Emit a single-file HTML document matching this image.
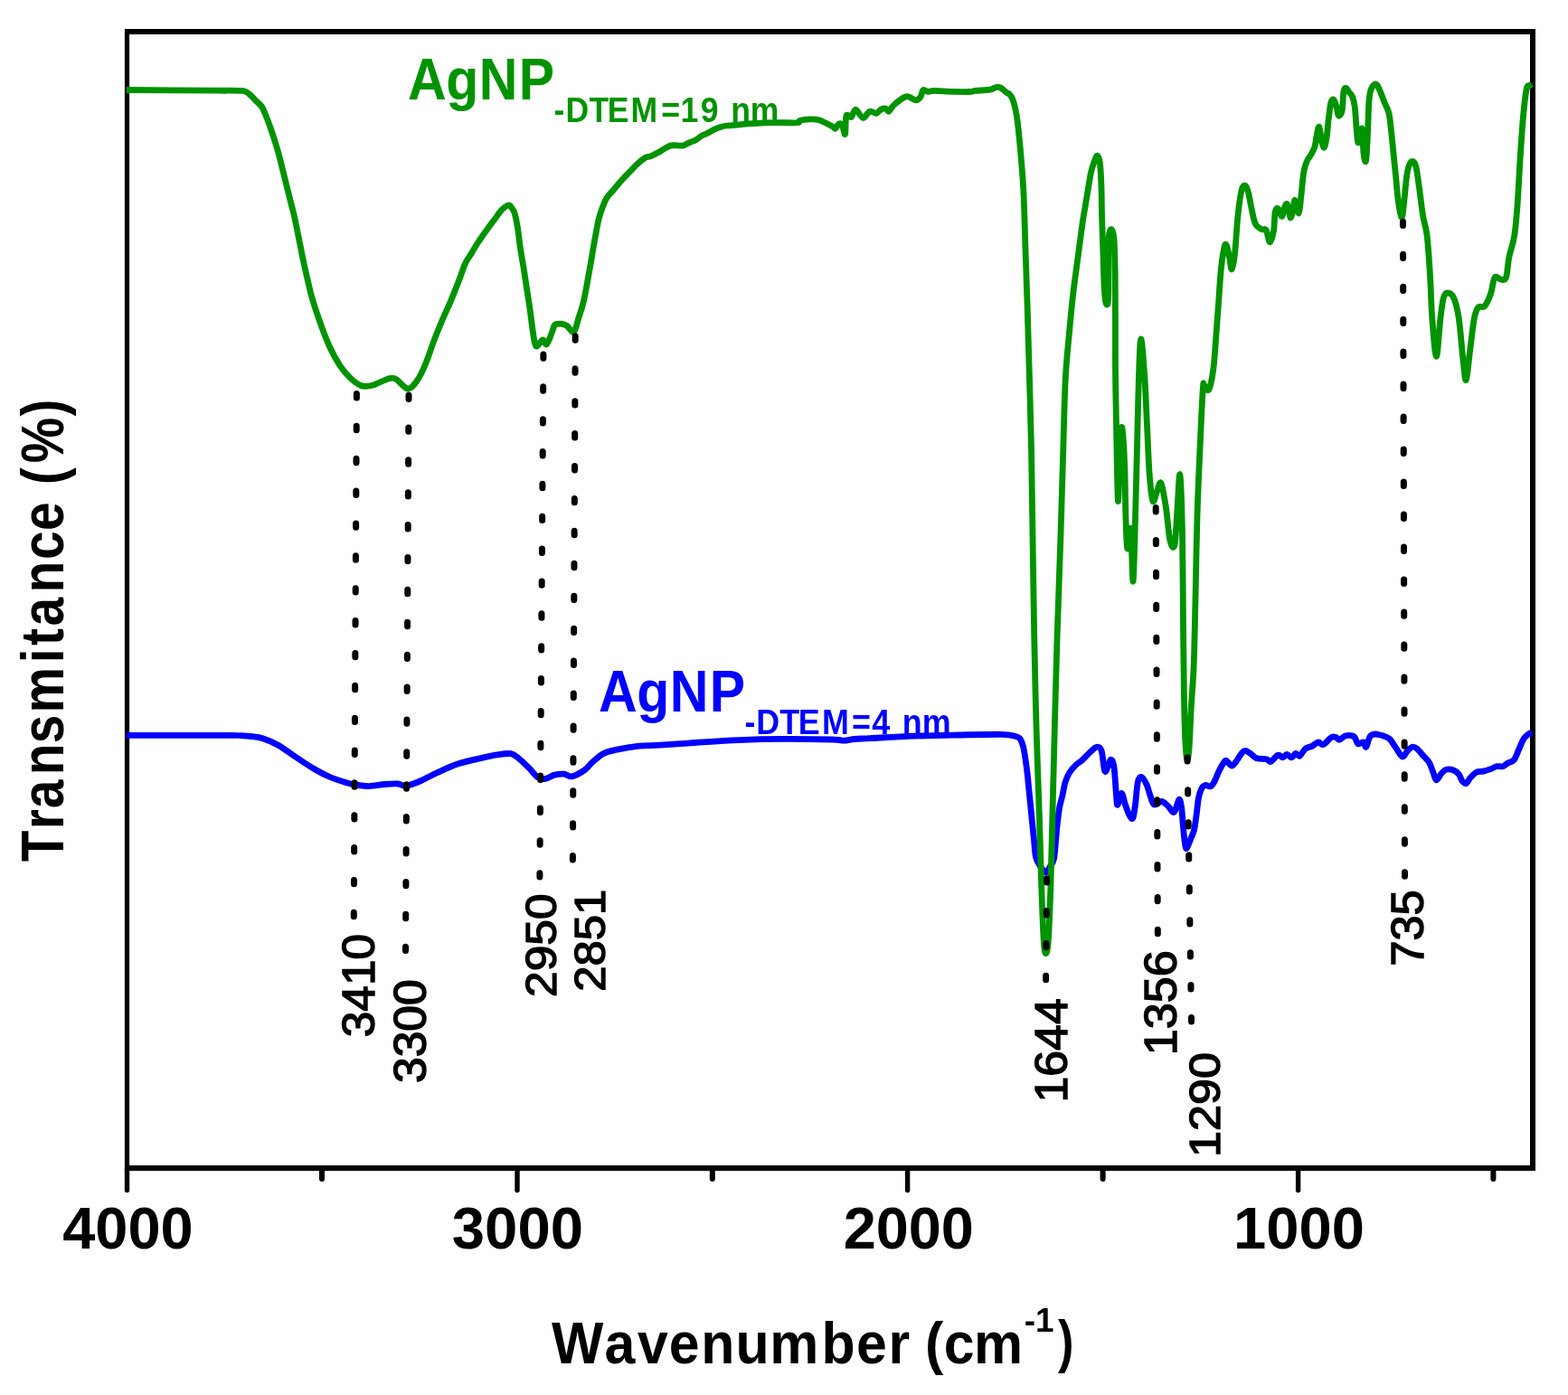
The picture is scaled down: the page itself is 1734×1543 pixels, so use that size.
<!DOCTYPE html>
<html><head><meta charset="utf-8"><title>FTIR spectra</title>
<style>html,body{margin:0;padding:0;background:#fff;}svg{display:block;}</style></head>
<body><svg width="1734" height="1543" viewBox="0 0 1734 1543">
<rect width="1734" height="1543" fill="#fff"/>
<g stroke="#000" fill="none" stroke-linecap="butt">
<line x1="140.5" y1="32" x2="140.5" y2="1295" stroke-width="5.2"/>
<line x1="138" y1="35" x2="1698" y2="35" stroke-width="5.9"/>
<line x1="1695" y1="32" x2="1695" y2="1295" stroke-width="6"/>
<line x1="138" y1="1292" x2="1698" y2="1292" stroke-width="6"/>
</g>
<g stroke="#000" stroke-linecap="round" fill="none">
<line x1="140.5" y1="1292" x2="140.5" y2="1316.5" stroke-width="5.4"/>
<line x1="572" y1="1292" x2="572" y2="1316.5" stroke-width="5.4"/>
<line x1="1003.6" y1="1292" x2="1003.6" y2="1316.5" stroke-width="5.4"/>
<line x1="1435.6" y1="1292" x2="1435.6" y2="1316.5" stroke-width="5.4"/>
<line x1="356" y1="1292" x2="356" y2="1304" stroke-width="6"/>
<line x1="787.8" y1="1292" x2="787.8" y2="1304" stroke-width="6"/>
<line x1="1219.6" y1="1292" x2="1219.6" y2="1304" stroke-width="6"/>
<line x1="1651.4" y1="1292" x2="1651.4" y2="1304" stroke-width="6"/>
</g>
<path d="M140,813.4C158.333,813.4 229,813.367 250,813.4C271,813.433 261.167,813.4 266,813.6C270.833,813.8 274.917,814.067 279,814.6C283.083,815.133 285.8,815.233 290.5,816.8C295.2,818.367 301.067,820.55 307.2,824C313.333,827.45 320.6,833.083 327.3,837.5C334,841.917 341.133,846.833 347.4,850.5C353.667,854.167 359.1,857 364.9,859.5C370.7,862 377.583,864.083 382.2,865.5C386.817,866.917 388.267,867.317 392.6,868C396.933,868.683 402.717,869.683 408.2,869.6C413.683,869.517 420.2,867.933 425.5,867.5C430.8,867.067 436.083,866.717 440,867C443.917,867.283 444.9,869.7 449,869.2C453.1,868.7 459.117,866.3 464.6,864C470.083,861.7 474.983,858.567 481.9,855.4C488.817,852.233 497.45,847.883 506.1,845C514.75,842.117 526.3,839.833 533.8,838.1C541.3,836.367 545.9,835.333 551.1,834.6C556.3,833.867 561.25,832.983 565,833.7C568.75,834.417 570.15,836.15 573.6,838.9C577.05,841.65 582.233,846.733 585.7,850.2C589.167,853.667 591.517,857.833 594.4,859.7C597.283,861.567 599.833,861.833 603,861.4C606.167,860.967 609.933,857.967 613.4,857.1C616.867,856.233 620.633,855.917 623.8,856.2C626.967,856.483 628.65,859.517 632.4,858.8C636.15,858.083 642.55,854.483 646.3,851.9C650.05,849.317 651.45,846.333 654.9,843.3C658.35,840.267 662.667,836.017 667,833.7C671.333,831.383 674.267,830.833 680.9,829.4C687.533,827.967 698.617,825.967 706.8,825.1C714.983,824.233 719.733,824.8 730,824.2C740.267,823.6 753.917,822.433 768.4,821.5C782.883,820.567 800.75,819.283 816.9,818.6C833.05,817.917 848.117,817.5 865.3,817.4C882.483,817.3 908.7,817.7 920,818C931.3,818.3 928.933,819.283 933.1,819.2C937.267,819.117 940.15,817.933 945,817.5C949.85,817.067 951.267,817.15 962.2,816.6C973.133,816.05 994.45,814.8 1010.6,814.2C1026.75,813.6 1042.95,813.317 1059.1,813C1075.25,812.683 1097.017,812.1 1107.5,812.3C1117.983,812.5 1118.667,813.5 1122,814.2C1125.333,814.9 1125.967,814.767 1127.5,816.5C1129.033,818.233 1130.183,821.183 1131.2,824.6C1132.217,828.017 1132.783,831.85 1133.6,837C1134.417,842.15 1135.383,849.333 1136.1,855.5C1136.817,861.667 1137.283,867.85 1137.9,874C1138.517,880.15 1139.183,886.25 1139.8,892.4C1140.417,898.55 1140.983,904.733 1141.6,910.9C1142.217,917.067 1142.833,923.133 1143.5,929.4C1144.167,935.667 1144.35,943.567 1145.6,948.5C1146.85,953.433 1149.2,956.25 1151,959C1152.8,961.75 1154.733,965 1156.4,965C1158.067,965 1159.483,961.5 1161,959C1162.517,956.5 1164.4,954.933 1165.5,950C1166.6,945.067 1166.967,935.917 1167.6,929.4C1168.233,922.883 1168.6,917.067 1169.3,910.9C1170,904.733 1170.867,897.533 1171.8,892.4C1172.733,887.267 1173.867,884.617 1174.9,880.1C1175.933,875.583 1176.667,869.617 1178,865.3C1179.333,860.983 1180.85,857.483 1182.9,854.2C1184.95,850.917 1188.117,847.717 1190.3,845.6C1192.483,843.483 1193.433,843.8 1196,841.5C1198.567,839.2 1202.933,834.333 1205.7,831.8C1208.467,829.267 1210.533,826.533 1212.6,826.3C1214.667,826.067 1216.6,826.017 1218.1,830.4C1219.6,834.783 1220.433,849.6 1221.6,852.6C1222.767,855.6 1223.95,850.483 1225.1,848.4C1226.25,846.317 1227.35,840.1 1228.5,840.1C1229.65,840.1 1230.967,841.25 1232,848.4C1233.033,855.55 1234.017,876.067 1234.7,883C1235.383,889.933 1235.167,890.917 1236.1,890C1237.033,889.083 1238.917,877.5 1240.3,877.5C1241.683,877.5 1243.017,886.083 1244.4,890C1245.783,893.917 1247.217,898.467 1248.6,901C1249.983,903.533 1251.55,907.033 1252.7,905.2C1253.85,903.367 1254.567,896.7 1255.5,890C1256.433,883.3 1257.15,870.083 1258.3,865C1259.45,859.917 1260.783,859.033 1262.4,859.5C1264.017,859.967 1266.383,864.333 1268,867.8C1269.617,871.267 1270.717,876.6 1272.1,880.3C1273.483,884 1274.217,888.967 1276.3,890C1278.383,891.033 1282.067,886.283 1284.6,886.5C1287.133,886.717 1289.2,889.333 1291.5,891.3C1293.8,893.267 1296.333,899.45 1298.4,898.3C1300.467,897.15 1302.517,885.1 1303.9,884.4C1305.283,883.7 1306,889.717 1306.7,894.1C1307.4,898.483 1307.517,904.467 1308.1,910.7C1308.683,916.933 1309.517,926.883 1310.2,931.5C1310.883,936.117 1311.167,938.867 1312.2,938.4C1313.233,937.933 1315,932.167 1316.4,928.7C1317.8,925.233 1319.45,922.433 1320.6,917.6C1321.75,912.767 1322.5,905.467 1323.3,899.7C1324.1,893.933 1324.467,887.617 1325.4,883C1326.333,878.383 1327.633,874.417 1328.9,872C1330.167,869.583 1331.4,868.85 1333,868.5C1334.6,868.15 1336.883,870.483 1338.5,869.9C1340.117,869.317 1341.083,867.883 1342.7,865C1344.317,862.117 1346.35,856.283 1348.2,852.6C1350.05,848.917 1352.417,844.75 1353.8,842.9C1355.183,841.05 1355.117,840.8 1356.5,841.5C1357.883,842.2 1360.25,847.1 1362.1,847.1C1363.95,847.1 1365.767,843.817 1367.6,841.5C1369.433,839.183 1371.483,835.05 1373.1,833.2C1374.717,831.35 1375.45,830.167 1377.3,830.4C1379.15,830.633 1382.117,833.2 1384.2,834.6C1386.283,836 1387.05,837.95 1389.8,838.8C1392.55,839.65 1398.133,839.1 1400.7,839.7C1403.267,840.3 1403.117,843.15 1405.2,842.4C1407.283,841.65 1410.967,835.95 1413.2,835.2C1415.433,834.45 1416.95,838.05 1418.6,837.9C1420.25,837.75 1421.467,834.3 1423.1,834.3C1424.733,834.3 1426.767,838.05 1428.4,837.9C1430.033,837.75 1431.4,833.7 1432.9,833.4C1434.4,833.1 1435.617,836.983 1437.4,836.1C1439.183,835.217 1441.367,829.883 1443.6,828.1C1445.833,826.317 1448.417,826.6 1450.8,825.4C1453.183,824.2 1455.817,821.2 1457.9,820.9C1459.983,820.6 1460.917,824.483 1463.3,823.6C1465.683,822.717 1469.817,816.933 1472.2,815.6C1474.583,814.267 1476.1,815.167 1477.6,815.6C1479.1,816.033 1479.417,818.5 1481.2,818.2C1482.983,817.9 1485.617,814.383 1488.3,813.8C1490.983,813.217 1495.067,813.217 1497.3,814.7C1499.533,816.183 1499.917,821.667 1501.7,822.7C1503.483,823.733 1506.5,820.3 1508,820.9C1509.5,821.5 1509.517,827.333 1510.7,826.3C1511.883,825.267 1513.467,817.083 1515.1,814.7C1516.733,812.317 1518.117,812.15 1520.5,812C1522.883,811.85 1526.717,812.917 1529.4,813.8C1532.083,814.683 1534.217,815.067 1536.6,817.3C1538.983,819.533 1541.317,823.917 1543.7,827.2C1546.083,830.483 1548.817,836.4 1550.9,837C1552.983,837.6 1554.417,832.583 1556.2,830.8C1557.983,829.017 1559.8,826.75 1561.6,826.3C1563.4,825.85 1564.917,826.467 1567,828.1C1569.083,829.733 1571.867,833.567 1574.1,836.1C1576.333,838.633 1578.617,840.317 1580.4,843.3C1582.183,846.283 1583.467,850.733 1584.8,854C1586.133,857.267 1586.9,862.6 1588.4,862.9C1589.9,863.2 1592,857.733 1593.8,855.8C1595.6,853.867 1596.817,851.9 1599.2,851.3C1601.583,850.7 1605.717,851.3 1608.1,852.2C1610.483,853.1 1612.017,854.767 1613.5,856.7C1614.983,858.633 1615.667,862.167 1617,863.8C1618.333,865.433 1620,867.1 1621.5,866.5C1623,865.9 1624.067,862.283 1626,860.2C1627.933,858.117 1630.717,855.183 1633.1,854C1635.483,852.817 1637.617,853.7 1640.3,853.1C1642.983,852.5 1646.817,851.3 1649.2,850.4C1651.583,849.5 1652.517,848.15 1654.6,847.7C1656.683,847.25 1659.617,848.283 1661.7,847.7C1663.783,847.117 1665.017,845.383 1667.1,844.2C1669.183,843.017 1672.117,843.133 1674.2,840.6C1676.283,838.067 1677.8,832.883 1679.6,829C1681.4,825.117 1683.217,820.133 1685,817.3C1686.783,814.467 1688.8,813.217 1690.3,812C1691.8,810.783 1693.383,810.333 1694,810" fill="none" stroke="#0000ff" stroke-width="6.8" stroke-linejoin="round" stroke-linecap="butt"/>
<path d="M140,99.5C156.667,99.617 221.667,100.083 240,100.2C258.333,100.317 245.1,100.117 250,100.2C254.9,100.283 265.083,100.017 269.4,100.7C273.717,101.383 273.733,102.617 275.9,104.3C278.067,105.983 280.233,108.633 282.4,110.8C284.567,112.967 287.017,114.6 288.9,117.3C290.783,120 292.083,123.217 293.7,127C295.317,130.783 296.967,135.417 298.6,140C300.233,144.583 301.883,149.383 303.5,154.5C305.117,159.617 306.683,164.75 308.3,170.7C309.917,176.65 311.583,183.717 313.2,190.2C314.817,196.683 316.517,203.667 318,209.6C319.483,215.533 320.75,220.4 322.1,225.8C323.45,231.2 324.617,235.25 326.1,242C327.583,248.75 329.367,258.2 331,266.3C332.633,274.4 334.283,283.033 335.9,290.6C337.517,298.167 339.1,304.967 340.7,311.7C342.3,318.433 343.05,322.833 345.5,331C347.95,339.167 352.217,351.9 355.4,360.7C358.583,369.5 361.15,376.483 364.6,383.8C368.05,391.117 372.25,398.833 376.1,404.6C379.95,410.367 383.85,414.75 387.7,418.4C391.55,422.05 395.367,425.15 399.2,426.5C403.033,427.85 406.85,427.267 410.7,426.5C414.55,425.733 418.833,423.25 422.3,421.9C425.767,420.55 428.817,418.783 431.5,418.4C434.183,418.017 435.133,417.667 438.4,419.6C441.667,421.533 447.25,429.817 451.1,430C454.95,430.183 458.233,425.317 461.5,420.7C464.767,416.083 467.633,409.6 470.7,402.3C473.767,395 476.817,384.983 479.9,376.9C482.983,368.817 486.117,361.1 489.2,353.8C492.283,346.5 495.333,340.4 498.4,333.1C501.467,325.8 504.917,316.933 507.6,310C510.283,303.067 512.183,296.5 514.5,291.5C516.817,286.5 519.183,283.833 521.5,280C523.817,276.167 525.317,273.183 528.4,268.5C531.483,263.817 536.833,256.317 540,251.9C543.167,247.483 544.933,245.283 547.4,242C549.867,238.717 552.333,234.7 554.8,232.2C557.267,229.7 560.333,227.367 562.2,227C564.067,226.633 564.817,228.417 566,230C567.183,231.583 568.2,232.667 569.3,236.5C570.4,240.333 571.567,246.567 572.6,253C573.633,259.433 574.4,267.75 575.5,275.1C576.6,282.45 578.033,289.767 579.2,297.1C580.367,304.433 581.383,311.767 582.5,319.1C583.617,326.433 584.85,333.75 585.9,341.1C586.95,348.45 587.9,356.883 588.8,363.2C589.7,369.517 590.433,375.7 591.3,379C592.167,382.3 592.517,383.533 594,383C595.483,382.467 598.433,376.167 600.2,375.8C601.967,375.433 602.967,381.983 604.6,380.8C606.233,379.617 608.533,372.25 610,368.7C611.467,365.15 612.233,361.233 613.4,359.5C614.567,357.767 615.6,358.483 617,358.3C618.4,358.117 620.133,358.067 621.8,358.4C623.467,358.733 625.083,358.817 627,360.3C628.917,361.783 631.717,366.783 633.3,367.3C634.883,367.817 635.483,365.733 636.5,363.4C637.517,361.067 638.1,357.583 639.4,353.3C640.7,349.017 642.917,342.883 644.3,337.7C645.683,332.517 646.667,327.383 647.7,322.2C648.733,317.017 649.567,311.783 650.5,306.6C651.433,301.417 652.4,296.283 653.3,291.1C654.2,285.917 654.833,281.633 655.9,275.5C656.967,269.367 658.617,260 659.7,254.3C660.783,248.6 661.233,245.633 662.4,241.3C663.567,236.967 665.25,232.083 666.7,228.3C668.15,224.517 669.167,221.617 671.1,218.6C673.033,215.583 675.55,213.433 678.3,210.2C681.05,206.967 684.483,202.667 687.6,199.2C690.717,195.733 694.1,192.383 697,189.4C699.9,186.417 702.2,183.817 705,181.3C707.8,178.783 711.4,175.7 713.8,174.3C716.2,172.9 717.083,173.817 719.4,172.9C721.717,171.983 725.167,170.183 727.7,168.8C730.233,167.417 732.3,165.883 734.6,164.6C736.9,163.317 739.2,161.733 741.5,161.1C743.8,160.467 746.083,160.8 748.4,160.8C750.717,160.8 753.317,161.5 755.4,161.1C757.483,160.7 758.6,159.433 760.9,158.4C763.2,157.367 766.667,156.283 769.2,154.9C771.733,153.517 773.8,151.417 776.1,150.1C778.4,148.783 780.683,148.167 783,147C785.317,145.833 787.683,144.2 790,143.1C792.317,142 794.6,141.083 796.9,140.4C799.2,139.717 801.5,139.283 803.8,139C806.1,138.717 808,138.933 810.7,138.7C813.4,138.467 816.283,137.95 820,137.6C823.717,137.25 826.5,136.917 833,136.6C839.5,136.283 850.917,135.85 859,135.7C867.083,135.55 877.183,136.1 881.5,135.7C885.817,135.3 882.6,133.933 884.9,133.3C887.2,132.667 891.833,131.983 895.3,131.9C898.767,131.817 901.583,131.517 905.7,132.8C909.817,134.083 916.983,138.033 920,139.6C923.017,141.167 922.533,142.617 923.8,142.2C925.067,141.783 926.333,137.733 927.6,137.1C928.867,136.467 930.233,136.5 931.4,138.4C932.567,140.3 933.85,150.2 934.6,148.5C935.35,146.8 934.733,131.367 935.9,128.2C937.067,125.033 939.883,130.683 941.6,129.5C943.317,128.317 944.05,120.933 946.2,121.1C948.35,121.267 951.917,130.15 954.5,130.5C957.083,130.85 959.283,124.067 961.7,123.2C964.117,122.333 966.917,125.65 969,125.3C971.083,124.95 972.467,121.967 974.2,121.1C975.933,120.233 977.933,119.75 979.4,120.1C980.867,120.45 981.617,123.717 983,123.2C984.383,122.683 985.7,119.067 987.7,117C989.7,114.933 992.4,112.533 995,110.8C997.6,109.067 1000.367,106.6 1003.3,106.6C1006.233,106.6 1010.183,110.633 1012.6,110.8C1015.017,110.967 1016.417,109.483 1017.8,107.6C1019.183,105.717 1019.517,100.533 1020.9,99.5C1022.283,98.467 1024.2,101.25 1026.1,101.4C1028,101.55 1028.833,100.433 1032.3,100.4C1035.767,100.367 1040.25,101.017 1046.9,101.2C1053.55,101.383 1066.917,101.633 1072.2,101.5C1077.483,101.367 1074.783,100.783 1078.6,100.4C1082.417,100.017 1091.3,99.85 1095.1,99.2C1098.9,98.55 1099.5,96.85 1101.4,96.5C1103.3,96.15 1104.6,96.15 1106.5,97.1C1108.4,98.05 1111.217,101.05 1112.8,102.2C1114.383,103.35 1114.883,102.867 1116,104C1117.117,105.133 1118.367,106.333 1119.5,109C1120.633,111.667 1121.833,115.65 1122.8,120C1123.767,124.35 1124.333,127.067 1125.3,135.1C1126.267,143.133 1127.5,155.333 1128.6,168.2C1129.7,181.067 1130.983,193.933 1131.9,212.3C1132.817,230.667 1133.367,256.35 1134.1,278.4C1134.833,300.45 1135.567,320.967 1136.3,344.6C1137.033,368.233 1137.783,394.267 1138.5,420.2C1139.217,446.133 1140,470.2 1140.6,500.2C1141.2,530.2 1141.567,565.733 1142.1,600.2C1142.633,634.667 1143.15,673.333 1143.8,707C1144.45,740.667 1145.1,770.45 1146,802.2C1146.9,833.95 1148.267,868.4 1149.2,897.5C1150.133,926.6 1150.767,953 1151.6,976.8C1152.433,1000.6 1153.367,1027.333 1154.2,1040.3C1155.033,1053.267 1155.75,1054.6 1156.6,1054.6C1157.45,1054.6 1158.4,1053.267 1159.3,1040.3C1160.2,1027.333 1161.217,1000.6 1162,976.8C1162.783,953 1163.267,926.6 1164,897.5C1164.733,868.4 1165.567,833.95 1166.4,802.2C1167.233,770.45 1167.95,740.667 1169,707C1170.05,673.333 1171.583,634.667 1172.7,600.2C1173.817,565.733 1174.783,530.2 1175.7,500.2C1176.617,470.2 1177.05,442.467 1178.2,420.2C1179.35,397.933 1181.133,382.883 1182.6,366.6C1184.067,350.317 1185.533,335.367 1187,322.5C1188.467,309.633 1189.933,300.417 1191.4,289.4C1192.867,278.383 1194.7,264.5 1195.8,256.4C1196.9,248.3 1196.9,247.733 1198,240.8C1199.1,233.867 1201.017,223.017 1202.4,214.8C1203.783,206.583 1205,197.55 1206.3,191.5C1207.6,185.45 1209.017,181.717 1210.2,178.5C1211.383,175.283 1212.35,171.783 1213.4,172.2C1214.45,172.617 1215.733,174.983 1216.5,181C1217.267,187.017 1217.65,198.333 1218,208.3C1218.35,218.267 1218.283,228.9 1218.6,240.8C1218.917,252.7 1219.467,266.733 1219.9,279.7C1220.333,292.667 1220.65,309.25 1221.2,318.6C1221.75,327.95 1222.467,334.067 1223.2,335.8C1223.933,337.533 1225.167,339.133 1225.6,329C1226.033,318.867 1225.633,286.667 1225.8,275C1225.967,263.333 1226.15,262.55 1226.6,259C1227.05,255.45 1227.767,253.867 1228.5,253.7C1229.233,253.533 1230.367,255.283 1231,258C1231.633,260.717 1231.933,262.167 1232.3,270C1232.667,277.833 1233.017,291.833 1233.2,305C1233.383,318.167 1233.35,331.3 1233.4,349C1233.45,366.7 1233.317,391.033 1233.5,411.2C1233.683,431.367 1234.017,446.167 1234.5,470C1234.983,493.833 1235.733,549.2 1236.4,554.2C1237.067,559.2 1237.833,513.617 1238.5,500C1239.167,486.383 1239.733,474.167 1240.4,472.5C1241.067,470.833 1241.9,481.233 1242.5,490C1243.1,498.767 1243.6,511.683 1244,525.1C1244.4,538.517 1244.45,556.883 1244.9,570.5C1245.35,584.117 1245.783,604.383 1246.7,606.8C1247.617,609.217 1249.333,578.967 1250.4,585C1251.467,591.033 1252.2,646.933 1253.1,643C1254,639.067 1255.05,587.1 1255.8,561.4C1256.55,535.7 1257,512.983 1257.6,488.8C1258.2,464.617 1258.7,435.267 1259.4,416.3C1260.1,397.333 1260.733,375 1261.8,375C1262.867,375 1264.683,400.35 1265.8,416.3C1266.917,432.25 1267.6,452.567 1268.5,470.7C1269.4,488.833 1270.133,511.183 1271.2,525.1C1272.267,539.017 1273.6,550.883 1274.9,554.2C1276.2,557.517 1277.5,548.333 1279,545C1280.5,541.667 1282.167,531.467 1283.9,534.2C1285.633,536.933 1287.733,550.817 1289.4,561.4C1291.067,571.983 1292.3,590.833 1293.9,597.7C1295.5,604.567 1297.667,608.233 1299,602.6C1300.333,596.967 1300.917,576.817 1301.9,563.9C1302.883,550.983 1303.967,520.75 1304.9,525.1C1305.833,529.45 1306.9,561.483 1307.5,590C1308.1,618.517 1308.167,665.533 1308.5,696.2C1308.833,726.867 1309.15,754.2 1309.5,774C1309.85,793.8 1310.083,804 1310.6,815C1311.117,826 1311.867,837.833 1312.6,840C1313.333,842.167 1314.233,837.383 1315,828C1315.767,818.617 1316.333,799.183 1317.2,783.7C1318.067,768.217 1319.383,756.167 1320.2,735.1C1321.017,714.033 1321.467,684.817 1322.1,657.3C1322.733,629.783 1323.133,597.983 1324,570C1324.867,542.017 1326.25,512.767 1327.3,489.4C1328.35,466.033 1329.55,440.367 1330.3,429.8C1331.05,419.233 1330.717,425.8 1331.8,426C1332.883,426.2 1335.117,434.083 1336.8,431C1338.483,427.917 1340.483,418.45 1341.9,407.5C1343.317,396.55 1344.317,377.95 1345.3,365.3C1346.283,352.65 1346.967,342.833 1347.8,331.6C1348.633,320.367 1349.317,307.433 1350.3,297.9C1351.283,288.367 1352.717,278.883 1353.7,274.4C1354.683,269.917 1355.217,269.317 1356.2,271C1357.183,272.683 1358.617,280.017 1359.6,284.5C1360.583,288.983 1361.117,298.467 1362.1,297.9C1363.083,297.333 1364.367,290.917 1365.5,281.1C1366.633,271.283 1367.633,250.8 1368.9,239C1370.167,227.2 1371.7,215.917 1373.1,210.3C1374.5,204.683 1376.033,204.733 1377.3,205.3C1378.567,205.867 1379.583,209.5 1380.7,213.7C1381.817,217.9 1382.75,224.883 1384,230.5C1385.25,236.117 1386.367,243.55 1388.2,247.4C1390.033,251.25 1393.017,252.433 1395,253.6C1396.983,254.767 1398.55,252.017 1400.1,254.4C1401.65,256.783 1402.9,267.75 1404.3,267.9C1405.7,268.05 1407.517,260.917 1408.5,255.3C1409.483,249.683 1409.367,238.283 1410.2,234.2C1411.033,230.117 1412.25,229.95 1413.5,230.8C1414.75,231.65 1416.567,239.433 1417.7,239.3C1418.833,239.167 1419.317,232.25 1420.3,230C1421.283,227.75 1422.483,223.983 1423.6,225.8C1424.717,227.617 1425.867,240.2 1427,240.9C1428.133,241.6 1429.567,233.217 1430.4,230C1431.233,226.783 1431.017,220.617 1432,221.6C1432.983,222.583 1435.167,236.6 1436.3,235.9C1437.433,235.2 1438.1,223.3 1438.8,217.4C1439.5,211.5 1439.933,205.417 1440.5,200.5C1441.067,195.583 1441.367,191.683 1442.2,187.9C1443.033,184.117 1444.25,180.6 1445.5,177.8C1446.75,175 1448.3,173.633 1449.7,171.1C1451.1,168.567 1452.85,166.033 1453.9,162.6C1454.95,159.167 1455.183,154.217 1456,150.5C1456.817,146.783 1457.8,139.083 1458.8,140.3C1459.8,141.517 1461.033,154.017 1462,157.8C1462.967,161.583 1463.733,164.083 1464.6,163C1465.467,161.917 1466.433,156.483 1467.2,151.3C1467.967,146.117 1468.433,138.167 1469.2,131.9C1469.967,125.633 1470.833,117.267 1471.8,113.7C1472.767,110.133 1473.933,109.633 1475,110.5C1476.067,111.367 1477.333,115.983 1478.2,118.9C1479.067,121.817 1479.217,127.35 1480.2,128C1481.183,128.65 1483.133,127.35 1484.1,122.8C1485.067,118.25 1485.183,104.917 1486,100.7C1486.817,96.483 1488.017,97.283 1489,97.5C1489.983,97.717 1490.783,100.383 1491.9,102C1493.017,103.617 1494.633,104.383 1495.7,107.2C1496.767,110.017 1497.533,112.633 1498.3,118.9C1499.067,125.167 1499.65,138.317 1500.3,144.8C1500.95,151.283 1501.233,158.233 1502.2,157.8C1503.167,157.367 1505.117,140.05 1506.1,142.2C1507.083,144.35 1507.333,164.867 1508.1,170.7C1508.867,176.533 1509.95,181.517 1510.7,177.2C1511.45,172.883 1512.067,155.6 1512.6,144.8C1513.133,134 1513.25,120.183 1513.9,112.4C1514.55,104.617 1515.2,101.333 1516.5,98.1C1517.8,94.867 1520.183,92.783 1521.7,93C1523.217,93.217 1524.1,96.167 1525.6,99.4C1527.1,102.633 1528.983,108.067 1530.7,112.4C1532.417,116.733 1534.6,120 1535.9,125.4C1537.2,130.8 1537.633,137.25 1538.5,144.8C1539.367,152.35 1540.233,162.05 1541.1,170.7C1541.967,179.35 1542.833,188.05 1543.7,196.7C1544.567,205.35 1545.217,215.267 1546.3,222.6C1547.383,229.933 1549.117,240.7 1550.2,240.7C1551.283,240.7 1551.933,229.933 1552.8,222.6C1553.667,215.267 1554.533,203.183 1555.4,196.7C1556.267,190.217 1556.917,186.733 1558,183.7C1559.083,180.667 1560.617,178.5 1561.9,178.5C1563.183,178.5 1564.5,179.317 1565.7,183.7C1566.9,188.083 1567.783,195.617 1569.1,204.8C1570.417,213.983 1572.083,229.35 1573.6,238.8C1575.117,248.25 1576.867,250.15 1578.2,261.5C1579.533,272.85 1580.667,291.767 1581.6,306.9C1582.533,322.033 1582.667,337.733 1583.8,352.3C1584.933,366.867 1586.883,394.3 1588.4,394.3C1589.917,394.3 1591.583,363.083 1592.9,352.3C1594.217,341.517 1594.983,334.333 1596.3,329.6C1597.617,324.867 1598.9,323.9 1600.8,323.9C1602.7,323.9 1605.617,324.867 1607.7,329.6C1609.783,334.333 1611.6,340.95 1613.3,352.3C1615,363.65 1616.567,386.35 1617.9,397.7C1619.233,409.05 1619.983,422.3 1621.3,420.4C1622.617,418.5 1624.3,397.65 1625.8,386.3C1627.3,374.95 1628.783,360.05 1630.3,352.3C1631.817,344.55 1633,342.067 1634.9,339.8C1636.8,337.533 1639.433,341.167 1641.7,338.7C1643.967,336.233 1646.617,330.3 1648.5,325C1650.383,319.7 1651.117,309.533 1653,306.9C1654.883,304.267 1657.717,309.2 1659.8,309.2C1661.883,309.2 1663.983,311.067 1665.5,306.9C1667.017,302.733 1667.383,291.767 1668.9,284.2C1670.417,276.633 1673.083,270.95 1674.6,261.5C1676.117,252.05 1676.867,242.617 1678,227.5C1679.133,212.383 1680.267,187.817 1681.4,170.8C1682.533,153.783 1683.667,137.5 1684.8,125.4C1685.933,113.3 1687.133,103.267 1688.2,98.2C1689.267,93.133 1690.233,95.867 1691.2,95C1692.167,94.133 1693.533,93.333 1694,93" fill="none" stroke="#009300" stroke-width="6.8" stroke-linejoin="round" stroke-linecap="butt"/>
<path d="M394.4,435.5v4.4M394.206,471.363v4.4M394.012,507.225v4.4M393.819,543.087v4.4M393.625,578.95v4.4M393.431,614.812v4.4M393.238,650.675v4.4M393.044,686.537v4.4M392.85,722.4v4.4M392.656,758.262v4.4M392.462,794.125v4.4M392.269,829.987v4.4M392.075,865.85v4.4M391.881,901.712v4.4M391.688,937.575v4.4M391.494,973.438v4.4M391.3,1009.3v4.4M452,437v4.4M451.794,472.894v4.4M451.588,508.788v4.4M451.382,544.682v4.4M451.176,580.576v4.4M450.971,616.471v4.4M450.765,652.365v4.4M450.559,688.259v4.4M450.353,724.153v4.4M450.147,760.047v4.4M449.941,795.941v4.4M449.735,831.835v4.4M449.529,867.729v4.4M449.324,903.624v4.4M449.118,939.518v4.4M448.912,975.412v4.4M448.706,1011.306v4.4M448.5,1047.2v4.4M600.9,391.9v4.4M600.65,427.763v4.4M600.4,463.625v4.4M600.15,499.488v4.4M599.9,535.35v4.4M599.65,571.212v4.4M599.4,607.075v4.4M599.15,642.938v4.4M598.9,678.8v4.4M598.65,714.662v4.4M598.4,750.525v4.4M598.15,786.387v4.4M597.9,822.25v4.4M597.65,858.112v4.4M597.4,893.975v4.4M597.15,929.837v4.4M596.9,965.7v4.4M636.2,371.8v4.4M636.025,407.725v4.4M635.85,443.65v4.4M635.675,479.575v4.4M635.5,515.5v4.4M635.325,551.425v4.4M635.15,587.35v4.4M634.975,623.275v4.4M634.8,659.2v4.4M634.625,695.125v4.4M634.45,731.05v4.4M634.275,766.975v4.4M634.1,802.9v4.4M633.925,838.825v4.4M633.75,874.75v4.4M633.575,910.675v4.4M633.4,946.6v4.4M1157.6,971.7v4.4M1157.267,1007.567v4.4M1156.933,1043.433v4.4M1156.6,1079.3v4.4M1278.2,561.5v4.4M1278.362,597.408v4.4M1278.523,633.315v4.4M1278.685,669.223v4.4M1278.846,705.131v4.4M1279.008,741.038v4.4M1279.169,776.946v4.4M1279.331,812.854v4.4M1279.492,848.762v4.4M1279.654,884.669v4.4M1279.815,920.577v4.4M1279.977,956.485v4.4M1280.138,992.392v4.4M1280.3,1028.3v4.4M1313.1,837.7v4.4M1313.65,873.687v4.4M1314.2,909.675v4.4M1314.75,945.662v4.4M1315.3,981.65v4.4M1315.85,1017.637v4.4M1316.4,1053.625v4.4M1316.95,1089.612v4.4M1317.5,1125.6v4.4M1551.5,245.2v4.4M1551.6,281.18v4.4M1551.7,317.16v4.4M1551.8,353.14v4.4M1551.9,389.12v4.4M1552,425.1v4.4M1552.1,461.08v4.4M1552.2,497.06v4.4M1552.3,533.04v4.4M1552.4,569.02v4.4M1552.5,605v4.4M1552.6,640.98v4.4M1552.7,676.96v4.4M1552.8,712.94v4.4M1552.9,748.92v4.4M1553,784.9v4.4M1553.1,820.88v4.4M1553.2,856.86v4.4M1553.3,892.84v4.4M1553.4,928.82v4.4M1553.5,964.8v4.4" stroke="#000" stroke-width="7" stroke-linecap="round" fill="none"/>
<text transform="matrix(0.984 0 0 0.977 69.216 1381.023)" font-family='"Liberation Sans", Arial, sans-serif' font-weight="bold" font-size="66" fill="#000">4000</text>
<text transform="matrix(0.989 0 0 0.977 499.821 1381.023)" font-family='"Liberation Sans", Arial, sans-serif' font-weight="bold" font-size="66" fill="#000">3000</text>
<text transform="matrix(0.983 0 0 0.977 932.634 1381.023)" font-family='"Liberation Sans", Arial, sans-serif' font-weight="bold" font-size="66" fill="#000">2000</text>
<text transform="matrix(0.987 0 0 0.977 1364.051 1381.023)" font-family='"Liberation Sans", Arial, sans-serif' font-weight="bold" font-size="66" fill="#000">1000</text>
<text x="632.23 692.89 730.77 766.74 803.45 843.08 882.39 941.58 981.65 1018.26 1028.26 1060.22 1081.87 1116.32" y="0" transform="matrix(0.9648 0 0 1.0382 0 1507.9)" font-family='"Liberation Sans", Arial, sans-serif' font-weight="bold" font-size="63" fill="#000">Wavenumber (cm</text>
<text transform="matrix(0.972 0 0 0.996 1132.828 1472.9)" font-family='"Liberation Sans", Arial, sans-serif' font-weight="bold" font-size="38" fill="#000">-1</text>
<text transform="matrix(0.833 0 0 1.027 1170.1 1506.247)" font-family='"Liberation Sans", Arial, sans-serif' font-weight="bold" font-size="63" fill="#000">)</text>
<text x="-1057.69 -1017.63 -992.28 -951.23 -912.34 -874.92 -813.48 -792.07 -768.23 -727.18 -686.9 -651.29 -641.29 -594.58 -568.48 -510.92" y="0" transform="matrix(0 -0.9013 1.0474 0 70.2 0)" font-family='"Liberation Sans", Arial, sans-serif' font-weight="bold" font-size="63" fill="#000">Transmitance (%)</text>
<text x="481.01 526.09 565 611.97" y="0" transform="matrix(0.9376 0 0 1.0359 0 109.8)" font-family='"Liberation Sans", Arial, sans-serif' font-weight="bold" font-size="63" fill="#009300">AgNP</text>
<text x="619.57 632.76 659.13 679.38 705.66 739.59 761.09 783.59 793.59 817.48 839.44" y="0" transform="matrix(0.9886 0 0 1.0861 0 134.8)" font-family='"Liberation Sans", Arial, sans-serif' font-weight="bold" font-size="36" fill="#009300">-DTEM=19 nm</text>
<text x="705.95 751.03 789.94 836.91" y="0" transform="matrix(0.9376 0 0 1.0382 0 786.8)" font-family='"Liberation Sans", Arial, sans-serif' font-weight="bold" font-size="63" fill="#0000ff">AgNP</text>
<text x="826.67 839.44 865.43 886.01 912.47 945.43 967.86 977.86 1001.54 1023.64" y="0" transform="matrix(0.9963 0 0 1.0901 0 811.9)" font-family='"Liberation Sans", Arial, sans-serif' font-weight="bold" font-size="36" fill="#0000ff">-DTEM=4 nm</text>
<text transform="matrix(0 -1.009 0.966 0 413.534 1147.318)" font-family='"Liberation Sans", Arial, sans-serif' font-weight="normal" font-size="51" fill="#000" stroke="#000" stroke-width="1.5">3410</text>
<text transform="matrix(0 -1.01 0.963 0 470.937 1197.92)" font-family='"Liberation Sans", Arial, sans-serif' font-weight="normal" font-size="51" fill="#000" stroke="#000" stroke-width="1.5">3300</text>
<text transform="matrix(0 -1.009 0.947 0 615.153 1102.918)" font-family='"Liberation Sans", Arial, sans-serif' font-weight="normal" font-size="51" fill="#000" stroke="#000" stroke-width="1.5">2950</text>
<text transform="matrix(0 -0.997 0.947 0 669.153 1096.794)" font-family='"Liberation Sans", Arial, sans-serif' font-weight="normal" font-size="51" fill="#000" stroke="#000" stroke-width="1.5">2851</text>
<text transform="matrix(0 -1.015 0.963 0 1180.437 1219.459)" font-family='"Liberation Sans", Arial, sans-serif' font-weight="normal" font-size="51" fill="#000" stroke="#000" stroke-width="1.5">1644</text>
<text transform="matrix(0 -1.024 0.968 0 1300.632 1167.297)" font-family='"Liberation Sans", Arial, sans-serif' font-weight="normal" font-size="51" fill="#000" stroke="#000" stroke-width="1.5">1356</text>
<text transform="matrix(0 -1.023 0.955 0 1349.045 1280.093)" font-family='"Liberation Sans", Arial, sans-serif' font-weight="normal" font-size="51" fill="#000" stroke="#000" stroke-width="1.5">1290</text>
<text transform="matrix(0 -0.991 0.968 0 1573.932 1068.583)" font-family='"Liberation Sans", Arial, sans-serif' font-weight="normal" font-size="51" fill="#000" stroke="#000" stroke-width="1.5">735</text>
</svg></body></html>
